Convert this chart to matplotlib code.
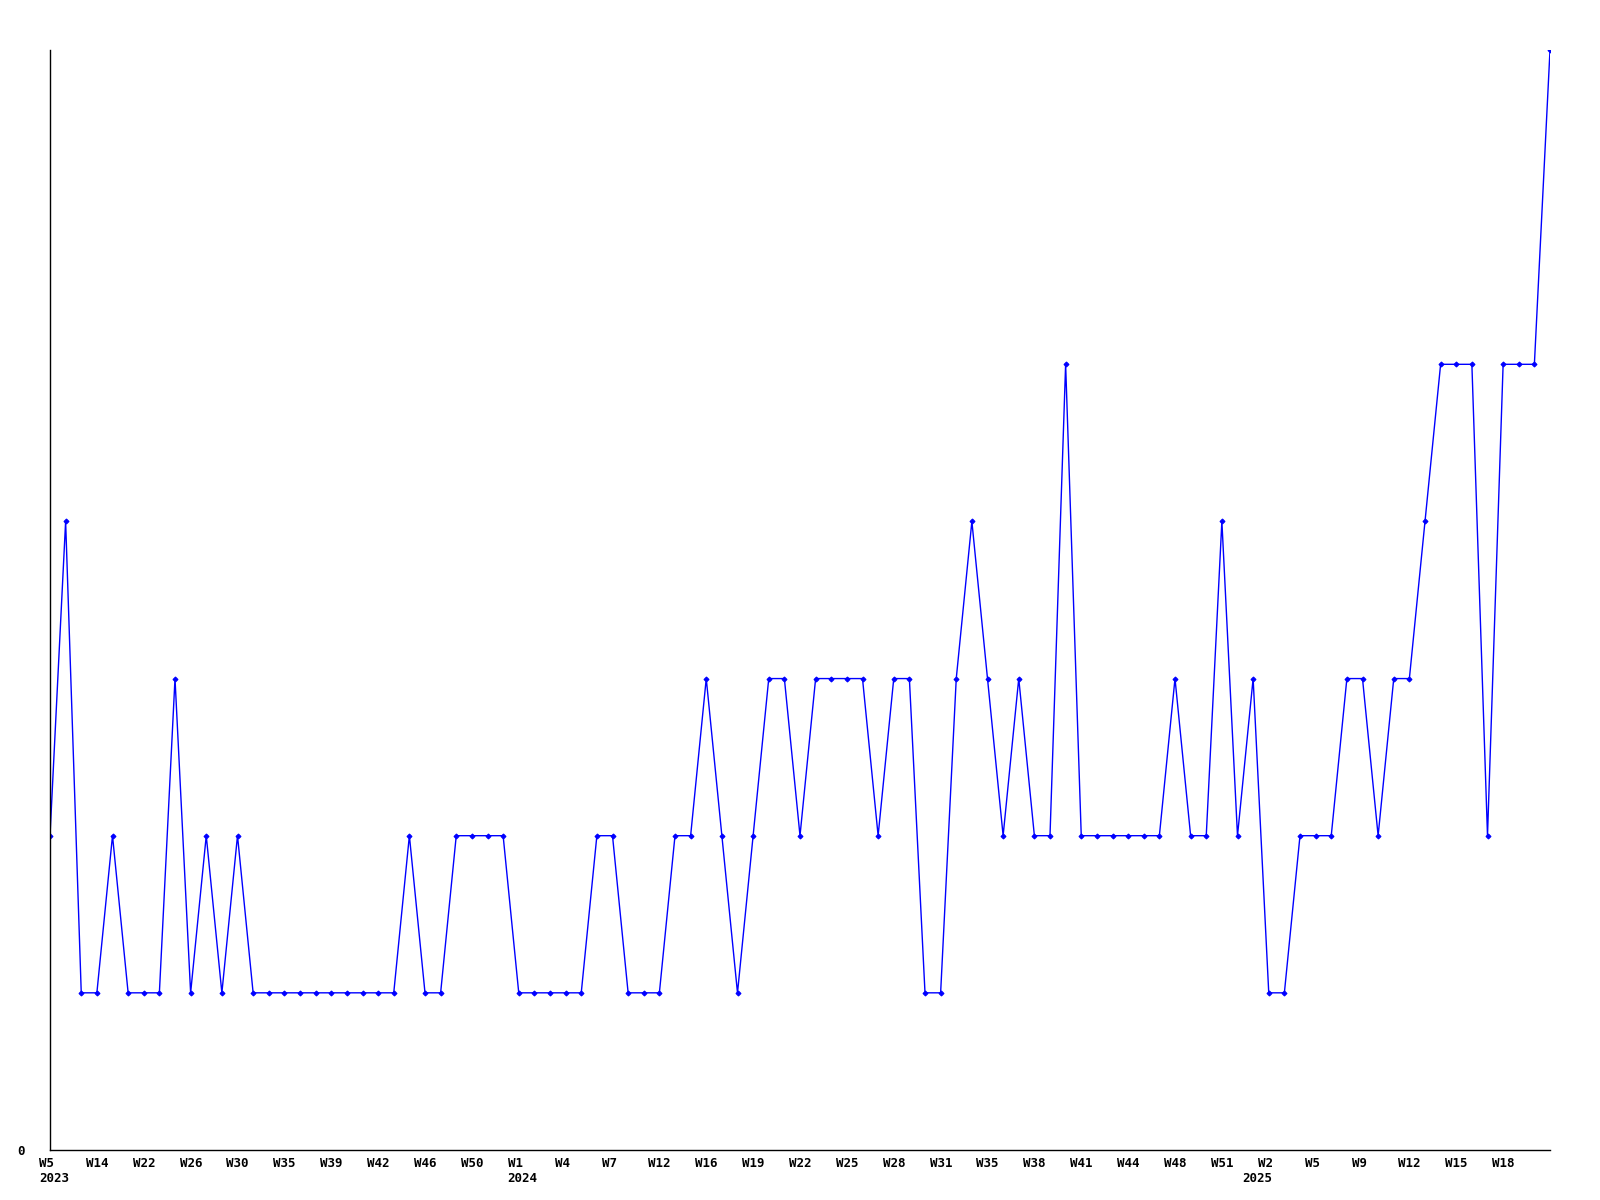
import matplotlib
matplotlib.use("Agg")
import matplotlib.pyplot as plt
import matplotlib.transforms as mtransforms

# weekly counts, one point per week shown
counts = [2, 4, 1, 1, 2, 1, 1, 1, 3, 1,
          2, 1, 2, 1, 1, 1, 1, 1, 1, 1,
          1, 1, 1, 2, 1, 1, 2, 2, 2, 2,
          1, 1, 1, 1, 1, 2, 2, 1, 1, 1,
          2, 2, 3, 2, 1, 2, 3, 3, 2, 3,
          3, 3, 3, 2, 3, 3, 1, 1, 3, 4,
          3, 2, 3, 2, 2, 5, 2, 2, 2, 2,
          2, 2, 3, 2, 2, 4, 2, 3, 1, 1,
          2, 2, 2, 3, 3, 2, 3, 3, 4, 5,
          5, 5, 2, 5, 5, 5, 7]

week_labels = ["W5", "W14", "W22", "W26", "W30", "W35", "W39", "W42", "W46", "W50",
               "W1", "W4", "W7", "W12", "W16", "W19", "W22", "W25", "W28", "W31",
               "W35", "W38", "W41", "W44", "W48", "W51", "W2", "W5", "W9", "W12",
               "W15", "W18"]
label_step = 3

year_labels = ["2023", "2024", "2025"]
year_idx = [0, 30, 78]
year_dx = [-8, -8, -19]   # horizontal text offset in points

fig = plt.figure(figsize=(16, 12), dpi=100)
ax = fig.add_axes([0.03125, 0.0417, 0.9375, 0.9166])

x = list(range(len(counts)))
ax.plot(x, counts, color="#0000ff", lw=1, marker="D", markersize=2.5,
        markeredgewidth=0.8)

ax.set_xlim(0, len(counts) - 1)
ax.set_ylim(0, max(counts))

for side in ["top", "right"]:
    ax.spines[side].set_visible(False)
for side in ["left", "bottom"]:
    ax.spines[side].set_color("black")
    ax.spines[side].set_linewidth(1)

font = dict(family="DejaVu Sans Mono", weight="bold", size=9)

ax.set_yticks([0])
ax.set_yticklabels(["0"], **font)
ax.tick_params(axis="y", length=0, pad=18)

# week labels start a little left of their point
ax.set_xticks(range(0, len(week_labels) * label_step, label_step))
ax.set_xticklabels(week_labels, ha="left", **font)
ax.tick_params(axis="x", length=0, pad=5)
shift = mtransforms.ScaledTranslation(-11 / 100, 0, fig.dpi_scale_trans)
for lab in ax.get_xticklabels():
    lab.set_transform(lab.get_transform() + shift)

for yr, i, dx in zip(year_labels, year_idx, year_dx):
    ax.annotate(yr, xy=(i, 0), xycoords=("data", "axes fraction"),
                xytext=(dx, -16), textcoords="offset points",
                ha="left", va="top", **font)

fig.savefig("out.png", dpi=100, facecolor="white")
